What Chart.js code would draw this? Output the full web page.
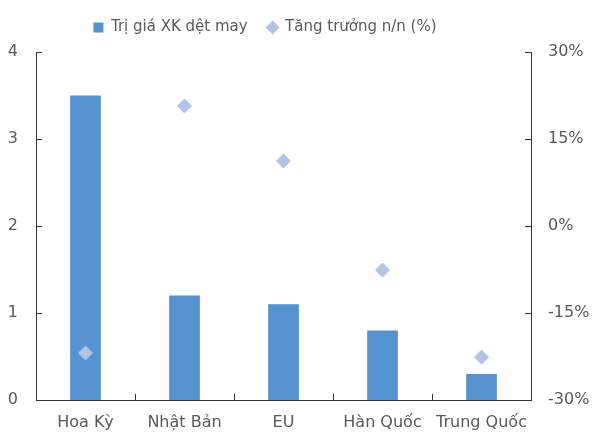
<!DOCTYPE html>
<html lang="vi">
<head>
    <meta charset="UTF-8">
    <title>Trị giá XK dệt may</title>
    <style>
        body {
            margin: 0;
            padding: 0;
            background: #fff;
        }
    </style>
</head>
<body>
    <canvas id="chart" width="596" height="433"></canvas>

    <script src="https://cdn.jsdelivr.net/npm/chart.js"></script>
    <script>
        // Datos
        const categories = ['Hoa Kỳ', 'Nhật Bản', 'EU', 'Hàn Quốc', 'Trung Quốc'];
        const exportValue = [3.5, 1.2, 1.1, 0.8, 0.3];      // eje izquierdo
        const growthPct = [-21.9, 20.7, 11.2, -7.6, -22.6];  // eje derecho, %
        const leftTicks = [0, 1, 2, 3, 4];
        const rightTicks = [-30, -15, 0, 15, 30];

        const textColor = '#595959';
        const axisColor = '#333333';
        const font = { family: "'DejaVu Sans', sans-serif", size: 16 };

        // Marcas de los ejes hacia dentro (como en Excel)
        const innerTicks = {
            id: 'innerTicks',
            afterDraw(chart) {
                const ctx = chart.ctx;
                const x = chart.scales.x, yl = chart.scales.y, yr = chart.scales.y1;
                const len = 6;
                ctx.save();
                ctx.strokeStyle = axisColor;
                ctx.lineWidth = 1;
                ctx.beginPath();
                leftTicks.forEach(v => {
                    const p = Math.round(yl.getPixelForValue(v)) + 0.5;
                    ctx.moveTo(yl.right, p);
                    ctx.lineTo(yl.right + len, p);
                });
                rightTicks.forEach(v => {
                    const p = Math.round(yr.getPixelForValue(v)) + 0.5;
                    ctx.moveTo(yr.left, p);
                    ctx.lineTo(yr.left - len, p);
                });
                for (let i = 1; i < categories.length; i++) {
                    const p = Math.round((x.getPixelForValue(i - 1) + x.getPixelForValue(i)) / 2) + 0.5;
                    ctx.moveTo(p, x.top);
                    ctx.lineTo(p, x.top - len);
                }
                ctx.stroke();
                ctx.restore();
            }
        };

        // Altura fija de la leyenda y un poco desplazada a la izquierda, como en el original
        const legendBox = {
            id: 'legendBox',
            beforeInit(chart) {
                const fit = chart.legend.fit;
                chart.legend.fit = function () {
                    fit.call(this);
                    this.height = 52;
                };
            },
            afterLayout(chart) {
                chart.legend.left -= 33;
                chart.legend.right -= 33;
            }
        };

        new Chart(document.getElementById('chart').getContext('2d'), {
            data: {
                labels: categories,
                datasets: [{
                    type: 'bar',
                    label: 'Trị giá XK dệt may',
                    data: exportValue,
                    backgroundColor: '#5592cf',
                    borderWidth: 0,
                    barPercentage: 0.31,
                    categoryPercentage: 1,
                    yAxisID: 'y',
                    order: 2
                }, {
                    type: 'scatter',
                    label: 'Tăng trưởng n/n (%)',
                    data: growthPct,
                    backgroundColor: '#afc4e6',
                    borderColor: '#afc4e6',
                    pointStyle: 'rectRot',
                    pointRadius: 7,
                    showLine: false,
                    yAxisID: 'y1',
                    order: 1
                }]
            },
            options: {
                responsive: false,
                animation: false,
                maintainAspectRatio: false,
                layout: { padding: 0 },
                plugins: {
                    legend: {
                        position: 'top',
                        labels: {
                            color: textColor,
                            font: { family: font.family, size: 15 },
                            usePointStyle: true,
                            boxWidth: 10,
                            boxHeight: 10,
                            padding: 20,
                            generateLabels(chart) {
                                return chart.data.datasets.map((ds, i) => ({
                                    text: ds.label,
                                    fillStyle: ds.backgroundColor,
                                    strokeStyle: ds.backgroundColor,
                                    fontColor: textColor,
                                    lineWidth: 0,
                                    pointStyle: i === 0 ? 'rect' : 'rectRot',
                                    datasetIndex: i
                                }));
                            }
                        }
                    },
                    tooltip: { enabled: false }
                },
                scales: {
                    x: {
                        type: 'category',
                        offset: true,
                        afterFit: s => { s.height = 33; },
                        grid: { display: false, drawTicks: false },
                        border: { color: axisColor },
                        ticks: { color: textColor, font: font, padding: 13, maxRotation: 0, autoSkip: false }
                    },
                    y: {
                        position: 'left',
                        min: 0,
                        max: 4,
                        afterBuildTicks: s => { s.ticks = leftTicks.map(v => ({ value: v })); },
                        afterFit: s => { s.width = 36; },
                        grid: { display: false, drawTicks: false },
                        border: { color: axisColor },
                        ticks: { color: textColor, font: font, padding: 18 }
                    },
                    y1: {
                        position: 'right',
                        min: -30,
                        max: 30,
                        afterBuildTicks: s => { s.ticks = rightTicks.map(v => ({ value: v })); },
                        afterFit: s => { s.width = 65; },
                        grid: { display: false, drawTicks: false },
                        border: { color: axisColor },
                        ticks: { color: textColor, font: font, padding: 17, callback: v => v + '%' }
                    }
                }
            },
            plugins: [innerTicks, legendBox]
        });
    </script>
</body>
</html>
